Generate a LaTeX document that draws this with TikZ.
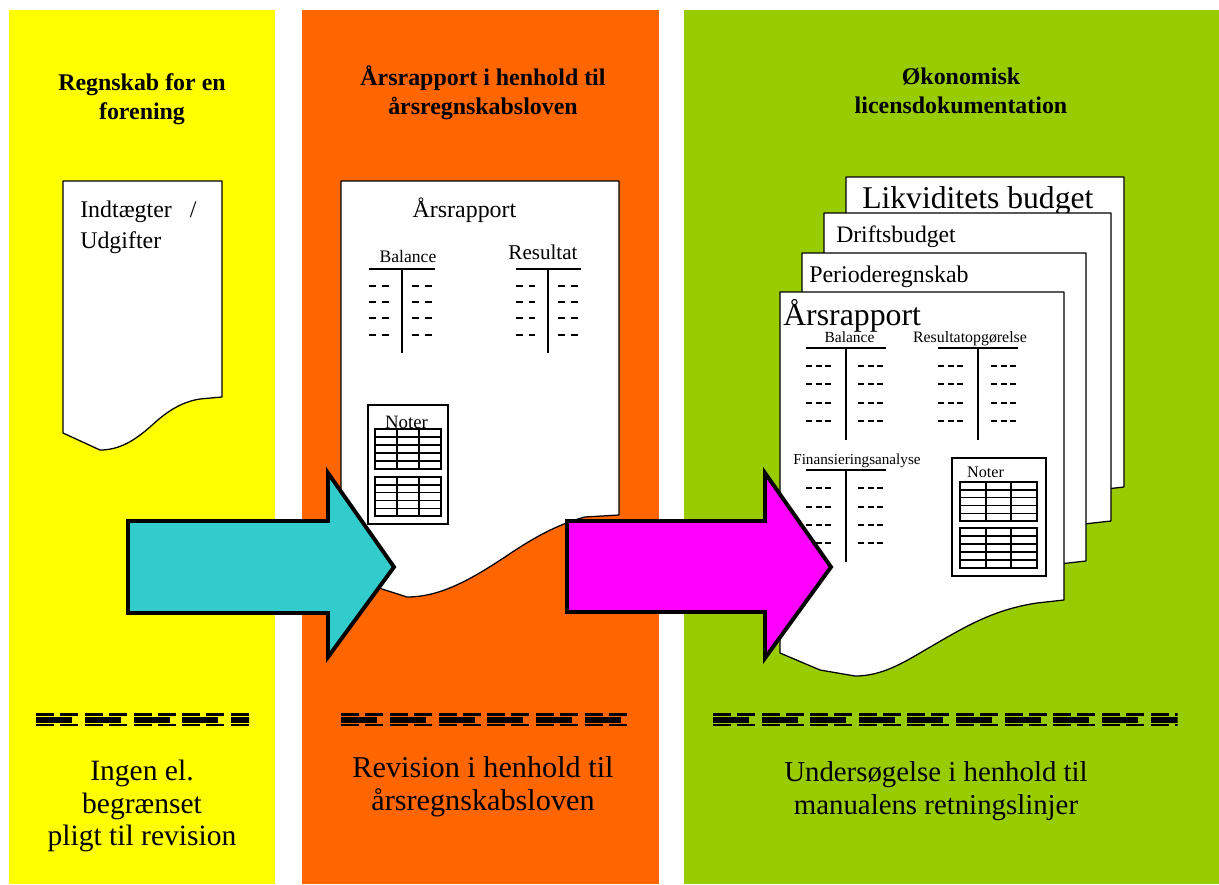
\documentclass[tikz,border=0pt]{standalone}
\usepackage{fontspec}
\setmainfont{Liberation Serif}
\usetikzlibrary{positioning}
\definecolor{panelyellow}{HTML}{FFFF00}
\definecolor{panelorange}{HTML}{FF6600}
\definecolor{panelgreen}{HTML}{99CC00}
\definecolor{arrowcyan}{HTML}{33CCCC}
\definecolor{arrowmagenta}{HTML}{FF00FF}
\tikzset{
	every node/.style={
		align=center, inner sep=0pt,
	},
	page/.style={draw=black, line width=0.9pt, fill=white, line join=round},
	bigarrow/.style={draw=black, line width=2.8pt, line join=miter},
	hdr/.style={font=\fontsize{17}{20.6}\selectfont\bfseries},
	foot/.style={font=\fontsize{21}{23.4}\selectfont},
	tline/.style={line width=1pt},
	dd/.style={line width=0.9pt, dash pattern=on 5pt off 4pt},
	ddd/.style={line width=0.9pt, dash pattern=on 4.3pt off 2.6pt},
	cell/.style={line width=1pt},
}
% one block of the garbled bar line under each column
\newcommand{\dashgrp}[1]{%
	\fill ({#1},712.5) rectangle ({#1+18},716);
	\fill ({#1+24},712.5) rectangle ({#1+42},716);
	\fill ({#1},717) rectangle ({#1+36},722.5);
	\fill ({#1},723.5) rectangle ({#1+18},726);
	\fill ({#1+24},723.5) rectangle ({#1+42},726);
}
% small table in the Noter box: x1 y1 x2 y2 col1 col2
\newcommand{\notetable}[6]{%
	\draw[cell] (#1,#2) rectangle (#3,#4);
	\foreach \r in {1,...,4}
		\draw[cell] (#1,{#2+(#4-#2)*\r/5}) -- (#3,{#2+(#4-#2)*\r/5});
	\draw[cell] (#5,#2) -- (#5,#4);
	\draw[cell] (#6,#2) -- (#6,#4);
}

\begin{document}
\begin{tikzpicture}[x=0.025cm, y=-0.025cm]
	\useasboundingbox (0,0) rectangle (1219,884);
	% columns
	\fill[panelyellow] (9,10) rectangle (275,884);
	\fill[panelorange] (302,10) rectangle (659,884);
	\fill[panelgreen] (684,10) rectangle (1219,884);

	% headings
	\node[hdr] (headA) at (142,99) {Regnskab for en\\forening};
	\node[hdr] (headB) at (483,93) {Årsrapport i henhold til\\årsregnskabsloven};
	\node[hdr] (headC) at (961,91) {Økonomisk\\licensdokumentation};

	% bar lines
	\foreach \i in {0,...,3} {\dashgrp{36+48.8*\i}}
	\begin{scope}
		\clip (231,700) rectangle (249,730);
		\dashgrp{231}
	\end{scope}
	\foreach \i in {0,...,5} {\dashgrp{341+48.8*\i}}
	\foreach \i in {0,...,8} {\dashgrp{713+48.6*\i}}
	\begin{scope}
		\clip (1150.5,700) rectangle (1177.5,730);
		\dashgrp{1150.5}
	\end{scope}

	% bottom texts
	\node[foot] (footA) at (142,806) {Ingen el.\\begrænset\\pligt til revision};
	\node[foot, font=\fontsize{21.5}{23.4}\selectfont] (footB) at (483,787) {Revision i henhold til\\årsregnskabsloven};
	\node[foot, font=\fontsize{20.5}{23.4}\selectfont] (footC) at (936,791) {Undersøgelse i henhold til\\manualens retningslinjer};

	% sheet in the yellow column
	\draw[page] (63,181) -- (222,181) -- (222,397) -- (200,399)
		.. controls (180,402) and (165,413) .. (150,427)
		.. controls (135,440) and (120,450) .. (100,450) -- (63,433) -- cycle;
	\node[anchor=base west, font=\fontsize{17}{22}\selectfont] (income) at (80,217) {Indtægter~\enspace/};
	\node[anchor=base west, font=\fontsize{17}{22}\selectfont] (costs) at (80,248) {Udgifter};

	% sheet in the orange column
	\draw[page] (341,181) -- (619,181) -- (619,515) -- (585,517)
		.. controls (555,525) and (530,540) .. (505,557)
		.. controls (470,580) and (440,597) .. (407,597) -- (382,589) -- (341,573) -- cycle;
	\node[anchor=base, font=\fontsize{17}{20}\selectfont] (reportB) at (464.5,217) {Årsrapport};
	\node[anchor=base, font=\fontsize{12.5}{15}\selectfont] (balB) at (408,262) {Balance};
	\node[anchor=base, font=\fontsize{15}{18}\selectfont] (resB) at (543,259) {Resultat};
	\draw[tline] (369,269) -- (435,269);
	\draw[tline] (402,269) -- (402,353);
	\draw[tline] (516,269) -- (581,269);
	\draw[tline] (548,269) -- (548,353);
	\foreach \y in {286,302,318,335} {
		\draw[dd] (369,\y) -- (389,\y);
		\draw[dd] (412,\y) -- (432,\y);
		\draw[dd] (516,\y) -- (535,\y);
		\draw[dd] (558,\y) -- (578,\y);
	}
	\draw[cell] (368,405) rectangle (448,524);
	\node[anchor=base, font=\fontsize{13.4}{16}\selectfont] (notesB) at (406.5,428) {Noter};
	\notetable{375}{429}{441}{469}{397}{419}
	\notetable{375}{477}{441}{516}{397}{419}

	% stack of sheets in the green column
	\draw[page] (846,177) -- (1124,177) -- (1124,487) -- (1097,490)
		.. controls (1050,497) and (1020,517) .. (985,537)
		.. controls (960,552) and (940,563) .. (915,563) -- (880,557) -- (846,540) -- cycle;
	\node[anchor=base west, font=\fontsize{22.5}{26}\selectfont] (liquid) at (862,208) {Likviditets budget};
	\draw[page] (824,213) -- (1111,213) -- (1111,521) -- (1084,524)
		.. controls (1037,531) and (1007,551) .. (972,571)
		.. controls (947,586) and (927,597) .. (902,597) -- (867,591) -- (824,574) -- cycle;
	\node[anchor=base west, font=\fontsize{16.8}{20}\selectfont] (running) at (836,242) {Driftsbudget};
	\draw[page] (802,253) -- (1086,253) -- (1086,561) -- (1059,564)
		.. controls (1012,571) and (982,591) .. (947,611)
		.. controls (922,626) and (902,637) .. (877,637) -- (842,631) -- (802,614) -- cycle;
	\node[anchor=base west, font=\fontsize{17}{20}\selectfont] (period) at (809,282) {Perioderegnskab};
	\draw[page] (780,292) -- (1064,292) -- (1064,600) -- (1037,603)
		.. controls (990,610) and (960,630) .. (925,650)
		.. controls (900,665) and (880,676) .. (855,676) -- (820,670) -- (780,653) -- cycle;
	\node[anchor=base west, font=\fontsize{22.6}{26}\selectfont] (reportC) at (783,325) {Årsrapport};
	\node[anchor=base, font=\fontsize{11}{13}\selectfont] (balC) at (849.5,342) {Balance};
	\node[anchor=base, font=\fontsize{11.3}{13}\selectfont] (resC) at (970,342) {Resultatopgørelse};
	\node[anchor=base, font=\fontsize{10.8}{13}\selectfont] (finC) at (857,464) {Finansieringsanalyse};
	\draw[tline] (806,348) -- (886,348);
	\draw[tline] (846,348) -- (846,440);
	\draw[tline] (938,348) -- (1018,348);
	\draw[tline] (978,348) -- (978,440);
	\draw[tline] (806,470) -- (886,470);
	\draw[tline] (846,470) -- (846,562);
	\foreach \y in {366,384,403,421} {
		\draw[ddd] (806,\y) -- (833,\y);
		\draw[ddd] (858,\y) -- (886,\y);
		\draw[ddd] (938,\y) -- (965,\y);
		\draw[ddd] (991,\y) -- (1018,\y);
	}
	\foreach \y in {488,507,525,543} {
		\draw[ddd] (806,\y) -- (833,\y);
		\draw[ddd] (858,\y) -- (886,\y);
	}
	\draw[cell] (952,458) rectangle (1046,576);
	\node[anchor=base, font=\fontsize{11.5}{14}\selectfont] (notesC) at (985.5,477) {Noter};
	\notetable{960}{482}{1037}{521}{986}{1011}
	\notetable{960}{528}{1037}{568}{986}{1011}

	% block arrows
	\draw[bigarrow, fill=arrowcyan] (128,521) -- (328,521) -- (328,473) -- (394,567)
		-- (328,657) -- (328,613) -- (128,613) -- cycle;
	\draw[bigarrow, fill=arrowmagenta] (567,521) -- (765,521) -- (765,473) -- (831,567)
		-- (765,658) -- (765,612) -- (567,612) -- cycle;
\end{tikzpicture}
\end{document}
